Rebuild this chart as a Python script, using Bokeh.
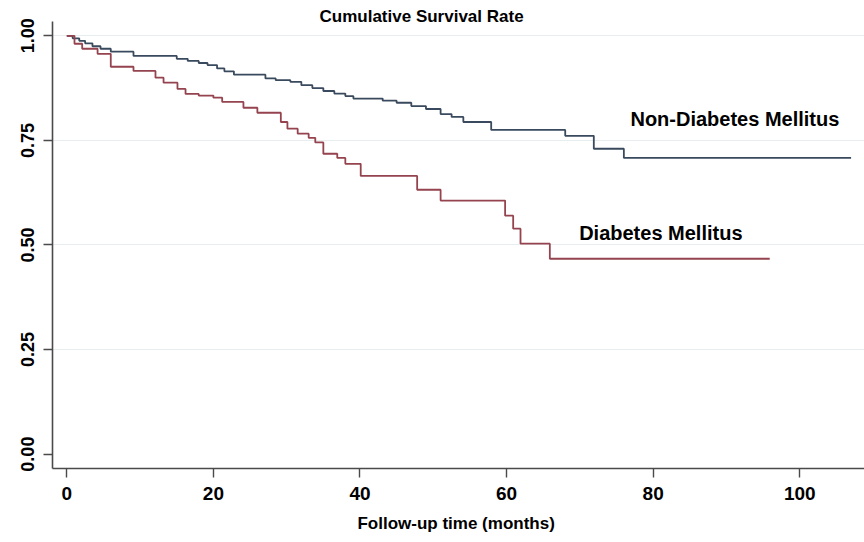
from bokeh.plotting import figure
from bokeh.models import Range1d, FixedTicker, NumeralTickFormatter, Label
from bokeh.embed import file_html
from bokeh.resources import INLINE

# ---- data ----
non_dm_times = [0, 0.8, 1.7, 2.5, 3.5, 4.6, 6.0, 9.1, 15.0, 16.5, 18.0, 19.2, 20.5, 21.5,
                22.8, 27.1, 28.5, 30.5, 32.0, 33.5, 35.0, 36.5, 38.0, 39.1, 43.1, 45.0,
                47.0, 49.0, 51.0, 52.5, 54.1, 57.9, 68.0, 71.9, 76.0]
non_dm_surv = [1.0, 0.994, 0.988, 0.982, 0.975, 0.969, 0.962, 0.952, 0.945, 0.940, 0.935,
               0.930, 0.922, 0.915, 0.907, 0.898, 0.894, 0.890, 0.882, 0.875, 0.868, 0.862,
               0.856, 0.850, 0.845, 0.840, 0.832, 0.825, 0.813, 0.806, 0.794, 0.775, 0.761,
               0.730, 0.708]
non_dm_end = 107.0

dm_times = [0, 1.05, 2.1, 4.2, 6.0, 9.1, 12.1, 13.2, 15.1, 16.2, 18.0, 20.0, 21.2, 24.1,
            26.0, 29.2, 30.1, 31.5, 33.0, 33.9, 35.0, 36.9, 38.0, 40.1, 47.8, 51.0, 59.8,
            60.9, 61.9, 65.9]
dm_surv = [1.0, 0.981, 0.969, 0.957, 0.926, 0.916, 0.900, 0.888, 0.873, 0.861, 0.857, 0.852,
           0.842, 0.828, 0.816, 0.794, 0.778, 0.766, 0.756, 0.745, 0.718, 0.708, 0.694,
           0.665, 0.632, 0.606, 0.570, 0.539, 0.503, 0.467]
dm_end = 95.9

x_ticks = [0, 20, 40, 60, 80, 100]
y_ticks = [0.0, 0.25, 0.50, 0.75, 1.00]
grid_ticks = [0.25, 0.50, 0.75, 1.00]

title_text = "Cumulative Survival Rate"
x_label = "Follow-up time  (months)"
series_names = ["Non-Diabetes Mellitus", "Diabetes Mellitus"]

FONT = "Liberation Sans"

p = figure(width=864, height=542, output_backend="svg", toolbar_location=None,
           x_range=Range1d(-1.95, 108.83), y_range=Range1d(-0.0344, 1.0844),
           min_border_left=52, min_border_right=0, min_border_top=0, min_border_bottom=74)
p.outline_line_color = None
p.background_fill_color = "white"
p.border_fill_color = "white"

# step curves
nx = non_dm_times + [non_dm_end]
ny = non_dm_surv + [non_dm_surv[-1]]
dx = dm_times + [dm_end]
dy = dm_surv + [dm_surv[-1]]
p.step(nx, ny, mode="after", line_color="#3a4a5e", line_width=1.8)
p.step(dx, dy, mode="after", line_color="#94434f", line_width=1.8)

# axes
p.xaxis.ticker = FixedTicker(ticks=x_ticks)
p.yaxis.ticker = FixedTicker(ticks=y_ticks)
p.yaxis.formatter = NumeralTickFormatter(format="0.00")
p.yaxis.bounds = (-0.0344, 1.0335)
for ax in (p.xaxis, p.yaxis):
    ax.axis_line_color = "#4a4a4a"
    ax.axis_line_width = 1.6
    ax.major_tick_line_color = "#4a4a4a"
    ax.major_tick_line_width = 1.4
    ax.major_tick_in = 0
    ax.major_tick_out = 9
    ax.minor_tick_line_color = None
    ax.major_label_text_font = FONT
    ax.major_label_text_font_style = "bold"
    ax.major_label_text_color = "black"
    ax.major_label_standoff = 9
p.xaxis.major_label_text_font_size = "19px"
p.yaxis.major_label_text_font_size = "18px"
p.yaxis.major_label_orientation = "vertical"
p.xaxis.axis_label = x_label
p.xaxis.axis_label_text_font = FONT
p.xaxis.axis_label_text_font_style = "bold"
p.xaxis.axis_label_text_font_size = "17px"
p.xaxis.axis_label_text_color = "black"
p.xaxis.axis_label_standoff = 11

p.xgrid.grid_line_color = None
p.ygrid.ticker = FixedTicker(ticks=grid_ticks)
p.ygrid.grid_line_color = "#e8eeef"
p.ygrid.grid_line_width = 1.2

# title and curve labels
p.add_layout(Label(x=48.4, y=1.046, text=title_text, text_align="center",
                   text_baseline="middle", text_font=FONT, text_font_style="bold",
                   text_font_size="17px", text_color="black"))
p.add_layout(Label(x=76.9, y=0.802, text=series_names[0], text_align="left",
                   text_baseline="middle", text_font=FONT, text_font_style="bold",
                   text_font_size="20px", text_color="black"))
p.add_layout(Label(x=69.9, y=0.529, text=series_names[1], text_align="left",
                   text_baseline="middle", text_font=FONT, text_font_style="bold",
                   text_font_size="20px", text_color="black"))

open("out.html", "w").write(file_html(p, INLINE))
